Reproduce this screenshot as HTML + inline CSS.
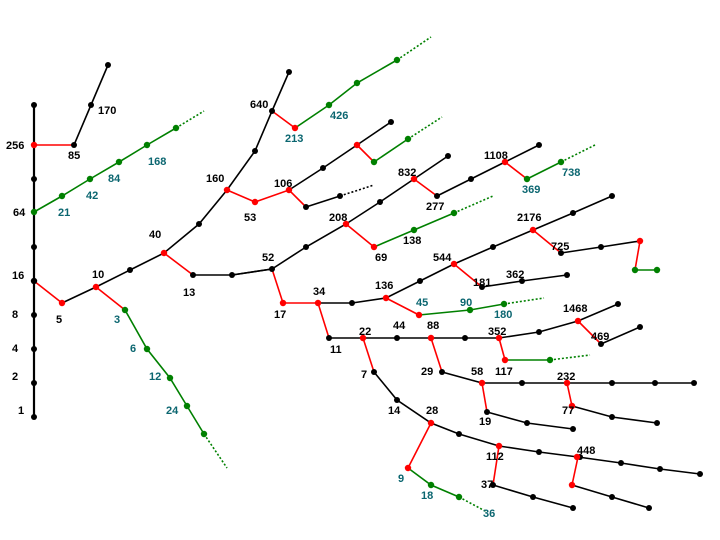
<!DOCTYPE html>
<html><head><meta charset="utf-8"><style>
body{margin:0;background:#fff}
svg{display:block}
text{font-family:"Liberation Sans",sans-serif;font-size:11px;font-weight:bold}
.b{fill:#000}.t{fill:#0b6670}
</style></head><body>
<svg width="720" height="540" viewBox="0 0 720 540">
<g fill="none" stroke-width="1.6">
<g stroke="#000">
<polyline points="34,105 34,417" stroke-width="2.2"/>
<polyline points="74,145 91,105 108,65"/>
<polyline points="62,303 96,287 130,270 164,253 199,224 227,190 255,151 272,111 289,72"/>
<polyline points="289,190 323,168 357,145 391,122"/>
<polyline points="306,207 340,196"/>
<polyline points="193,275 232,275 272,269 306,247 346,224 380,202 414,179 448,156"/>
<polyline points="437,196 471,179 505,162 539,145"/>
<polyline points="352,303 386,298 420,281 454,264 493,247 533,230 573,213 612,196"/>
<polyline points="482,287 522,281 567,275"/>
<polyline points="561,253 601,247 640,241"/>
<polyline points="318,303 352,303"/>
<polyline points="329,338 499,338 539,332 578,321 618,304"/>
<polyline points="601,344 640,327"/>
<polyline points="374,372 397,400 431,423 459,434 499,446 539,452 578,457 621,463 660,469 700,474"/>
<polyline points="493,485 533,497 573,508"/>
<polyline points="572,485 612,497 649,508"/>
<polyline points="442,372 482,383 694,383"/>
<polyline points="487,412 527,423 573,429"/>
<polyline points="572,406 612,417 657,423"/>
<polyline points="232,275 272,269"/>
</g>
<g stroke="#f00">
<polyline points="34,145 74,145"/>
<polyline points="34,281 62,303"/>
<polyline points="96,287 125,310"/>
<polyline points="164,253 193,275"/>
<polyline points="227,190 255,202 289,190 306,207"/>
<polyline points="272,111 295,128"/>
<polyline points="357,145 374,162"/>
<polyline points="346,224 374,247"/>
<polyline points="414,179 437,196"/>
<polyline points="505,162 527,179"/>
<polyline points="272,269 283,303 318,303 329,338"/>
<polyline points="386,298 419,315"/>
<polyline points="454,264 482,287"/>
<polyline points="533,230 561,253"/>
<polyline points="640,241 635,270"/>
<polyline points="363,338 374,372"/>
<polyline points="431,338 442,372"/>
<polyline points="499,338 505,360"/>
<polyline points="578,321 601,344"/>
<polyline points="431,423 408,468"/>
<polyline points="499,446 493,485"/>
<polyline points="578,457 572,485"/>
<polyline points="482,383 487,412"/>
<polyline points="567,383 572,406"/>
</g>
<g stroke="#008000">
<polyline points="34,212 62,196 90,179 119,162 147,145 176,128"/>
<polyline points="125,310 147,349 170,378 187,406 204,434"/>
<polyline points="295,128 329,105 357,83 397,60"/>
<polyline points="374,162 408,139"/>
<polyline points="374,247 414,230 454,213"/>
<polyline points="527,179 561,162"/>
<polyline points="419,315 470,310 504,304"/>
<polyline points="505,360 550,360"/>
<polyline points="635,270 657,270"/>
<polyline points="408,468 431,485 459,497"/>
</g>
<g stroke="#008000" stroke-dasharray="2,2">
<polyline points="176,128 204,111"/>
<polyline points="204,434 227,468"/>
<polyline points="397,60 431,37"/>
<polyline points="408,139 442,117"/>
<polyline points="454,213 493,196"/>
<polyline points="561,162 595,145"/>
<polyline points="504,304 544,298"/>
<polyline points="550,360 590,355"/>
<polyline points="459,497 487,512"/>
</g>
<polyline points="340,196 374,185" stroke="#000" stroke-dasharray="2,2"/>
</g>
<g fill="#000">
<circle cx="34" cy="105" r="3"/><circle cx="34" cy="179" r="3"/><circle cx="34" cy="247" r="3"/><circle cx="34" cy="315" r="3"/><circle cx="34" cy="349" r="3"/><circle cx="34" cy="383" r="3"/><circle cx="34" cy="417" r="3"/>
<circle cx="74" cy="145" r="3"/><circle cx="91" cy="105" r="3"/><circle cx="108" cy="65" r="3"/>
<circle cx="130" cy="270" r="3"/><circle cx="199" cy="224" r="3"/><circle cx="255" cy="151" r="3"/><circle cx="272" cy="111" r="3"/><circle cx="289" cy="72" r="3"/>
<circle cx="323" cy="168" r="3"/><circle cx="391" cy="122" r="3"/><circle cx="306" cy="207" r="3"/><circle cx="340" cy="196" r="3"/>
<circle cx="193" cy="275" r="3"/><circle cx="232" cy="275" r="3"/><circle cx="272" cy="269" r="3"/><circle cx="306" cy="247" r="3"/><circle cx="380" cy="202" r="3"/><circle cx="448" cy="156" r="3"/>
<circle cx="437" cy="196" r="3"/><circle cx="471" cy="179" r="3"/><circle cx="539" cy="145" r="3"/>
<circle cx="352" cy="303" r="3"/><circle cx="420" cy="281" r="3"/><circle cx="493" cy="247" r="3"/><circle cx="573" cy="213" r="3"/><circle cx="612" cy="196" r="3"/>
<circle cx="482" cy="287" r="3"/><circle cx="522" cy="281" r="3"/><circle cx="567" cy="275" r="3"/>
<circle cx="561" cy="253" r="3"/><circle cx="601" cy="247" r="3"/>
<circle cx="329" cy="338" r="3"/><circle cx="397" cy="338" r="3"/><circle cx="465" cy="338" r="3"/><circle cx="539" cy="332" r="3"/><circle cx="618" cy="304" r="3"/><circle cx="601" cy="344" r="3"/><circle cx="640" cy="327" r="3"/>
<circle cx="374" cy="372" r="3"/><circle cx="397" cy="400" r="3"/><circle cx="459" cy="434" r="3"/><circle cx="539" cy="452" r="3"/><circle cx="621" cy="463" r="3"/><circle cx="660" cy="469" r="3"/><circle cx="700" cy="474" r="3"/><circle cx="580" cy="457" r="3"/>
<circle cx="493" cy="485" r="3"/><circle cx="533" cy="497" r="3"/><circle cx="573" cy="508" r="3"/><circle cx="612" cy="497" r="3"/><circle cx="649" cy="508" r="3"/>
<circle cx="442" cy="372" r="3"/><circle cx="522" cy="383" r="3"/><circle cx="612" cy="383" r="3"/><circle cx="655" cy="383" r="3"/><circle cx="694" cy="383" r="3"/>
<circle cx="487" cy="412" r="3"/><circle cx="527" cy="423" r="3"/><circle cx="573" cy="429" r="3"/><circle cx="612" cy="417" r="3"/><circle cx="657" cy="423" r="3"/>
</g>
<g fill="#f00">
<circle cx="34" cy="145" r="3.2"/><circle cx="34" cy="281" r="3.2" fill="#000"/><circle cx="62" cy="303" r="3.2"/><circle cx="96" cy="287" r="3.2"/><circle cx="164" cy="253" r="3.2"/><circle cx="227" cy="190" r="3.2"/><circle cx="255" cy="202" r="3.2"/><circle cx="289" cy="190" r="3.2"/><circle cx="357" cy="145" r="3.2"/><circle cx="295" cy="128" r="3.2"/><circle cx="346" cy="224" r="3.2"/><circle cx="374" cy="247" r="3.2"/><circle cx="414" cy="179" r="3.2"/><circle cx="505" cy="162" r="3.2"/><circle cx="283" cy="303" r="3.2"/><circle cx="318" cy="303" r="3.2"/><circle cx="386" cy="298" r="3.2"/><circle cx="419" cy="315" r="3.2"/><circle cx="454" cy="264" r="3.2"/><circle cx="533" cy="230" r="3.2"/><circle cx="640" cy="241" r="3.2"/><circle cx="363" cy="338" r="3.2"/><circle cx="431" cy="338" r="3.2"/><circle cx="499" cy="338" r="3.2"/><circle cx="578" cy="321" r="3.2"/><circle cx="505" cy="360" r="3.2"/><circle cx="431" cy="423" r="3.2"/><circle cx="408" cy="468" r="3.2"/><circle cx="499" cy="446" r="3.2"/><circle cx="577" cy="457" r="3.2"/><circle cx="572" cy="485" r="3.2"/><circle cx="482" cy="383" r="3.2"/><circle cx="567" cy="383" r="3.2"/><circle cx="572" cy="406" r="3.2"/>
</g>
<g fill="#008000">
<circle cx="34" cy="212" r="3.2"/><circle cx="62" cy="196" r="3.2"/><circle cx="90" cy="179" r="3.2"/><circle cx="119" cy="162" r="3.2"/><circle cx="147" cy="145" r="3.2"/><circle cx="176" cy="128" r="3.2"/>
<circle cx="125" cy="310" r="3.2"/><circle cx="147" cy="349" r="3.2"/><circle cx="170" cy="378" r="3.2"/><circle cx="187" cy="406" r="3.2"/><circle cx="204" cy="434" r="3.2"/>
<circle cx="329" cy="105" r="3.2"/><circle cx="357" cy="83" r="3.2"/><circle cx="397" cy="60" r="3.2"/><circle cx="374" cy="162" r="3.2"/><circle cx="408" cy="139" r="3.2"/><circle cx="414" cy="230" r="3.2"/><circle cx="454" cy="213" r="3.2"/><circle cx="527" cy="179" r="3.2"/><circle cx="561" cy="162" r="3.2"/><circle cx="470" cy="310" r="3.2"/><circle cx="504" cy="304" r="3.2"/><circle cx="550" cy="360" r="3.2"/><circle cx="635" cy="270" r="3.2"/><circle cx="657" cy="270" r="3.2"/><circle cx="431" cy="485" r="3.2"/><circle cx="459" cy="497" r="3.2"/>
</g>
<g class="b">
<text x="6" y="149">256</text><text x="13" y="216">64</text><text x="12" y="279">16</text><text x="12" y="318">8</text><text x="12" y="352">4</text><text x="12" y="380">2</text><text x="18" y="414">1</text>
<text x="68" y="159">85</text><text x="98" y="114">170</text><text x="56" y="323">5</text><text x="92" y="278">10</text><text x="149" y="238">40</text><text x="183" y="296">13</text>
<text x="206" y="182">160</text><text x="244" y="221">53</text><text x="274" y="187">106</text><text x="250" y="108">640</text><text x="262" y="261">52</text><text x="329" y="221">208</text><text x="375" y="261">69</text><text x="403" y="244">138</text>
<text x="398" y="176">832</text><text x="426" y="210">277</text><text x="484" y="159">1108</text><text x="274" y="318">17</text><text x="313" y="295">34</text><text x="330" y="353">11</text><text x="375" y="289">136</text>
<text x="433" y="261">544</text><text x="473" y="286">181</text><text x="506" y="278">362</text><text x="517" y="221">2176</text><text x="551" y="250">725</text>
<text x="359" y="335">22</text><text x="393" y="329">44</text><text x="427" y="329">88</text><text x="488" y="335">352</text><text x="563" y="312">1468</text><text x="591" y="340">469</text>
<text x="361" y="378">7</text><text x="421" y="375">29</text><text x="471" y="375">58</text><text x="495" y="375">117</text><text x="557" y="380">232</text>
<text x="388" y="414">14</text><text x="426" y="414">28</text><text x="479" y="425">19</text><text x="562" y="414">77</text><text x="486" y="460">112</text><text x="577" y="454">448</text><text x="481" y="488">37</text>
</g>
<g class="t">
<text x="58" y="216">21</text><text x="86" y="199">42</text><text x="108" y="182">84</text><text x="148" y="165">168</text>
<text x="114" y="323">3</text><text x="130" y="352">6</text><text x="149" y="380">12</text><text x="166" y="414">24</text>
<text x="285" y="142">213</text><text x="330" y="119">426</text><text x="522" y="193">369</text><text x="562" y="176">738</text>
<text x="416" y="306">45</text><text x="460" y="306">90</text><text x="494" y="318">180</text>
<text x="398" y="482">9</text><text x="421" y="499">18</text><text x="483" y="517">36</text>
</g>
</svg>
</body></html>
